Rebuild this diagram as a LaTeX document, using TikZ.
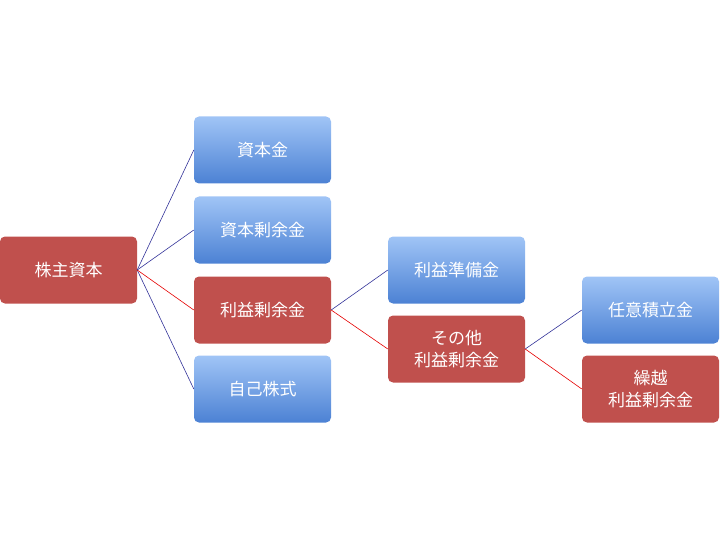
\documentclass[tikz,border=0pt]{standalone}
\usepackage{fontspec}
\newfontfamily\cjk{Noto Sans CJK JP}
\begin{document}
\begin{tikzpicture}[x=1pt,y=-1pt,
  bx/.style={minimum width=137pt,minimum height=67pt,rounded corners=5pt,text=white,font=\cjk\fontsize{17}{22}\selectfont,align=center,inner sep=0pt},
  bl/.style={bx,top color=blue!20!cyan!30!white!80!blue,bottom color=blue!60!cyan!40!white!70!black},
  rd/.style={bx,fill=red!60!black!80!white},
  bline/.style={draw=blue!50!black!80!white,line width=0.6pt},
  rline/.style={draw=red!90!black,line width=0.6pt}]
\useasboundingbox (0,0) rectangle (720,540);
\tikzset{bl/.style={bx,top color={rgb,255:red,160;green,196;blue,246},bottom color={rgb,255:red,76;green,130;blue,212}},
 rd/.style={bx,fill={rgb,255:red,192;green,80;blue,77}}}
\node[rd] (a) at (68.5,270) {株主資本};
\node[bl] (b1) at (262.5,150) {資本金};
\node[bl] (b2) at (262.5,230) {資本剰余金};
\node[rd] (b3) at (262.5,310) {利益剰余金};
\node[bl] (b4) at (262.5,389) {自己株式};
\node[bl] (c1) at (456.5,270) {利益準備金};
\node[rd] (c2) at (456.5,349) {その他\\利益剰余金};
\node[bl] (d1) at (650.5,310) {任意積立金};
\node[rd] (d2) at (650.5,389) {繰越\\利益剰余金};
\foreach \t in {b1,b2,b4} \draw[bline] (a.east) -- (\t.west);
\draw[rline] (a.east) -- (b3.west);
\draw[bline] (b3.east) -- (c1.west);
\draw[rline] (b3.east) -- (c2.west);
\draw[bline] (c2.east) -- (d1.west);
\draw[rline] (c2.east) -- (d2.west);
\end{tikzpicture}
\end{document}
